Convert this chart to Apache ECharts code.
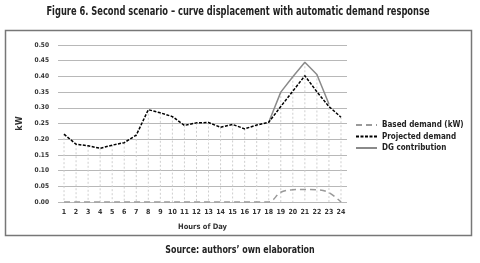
<!DOCTYPE html>
<html>
<head>
<meta charset="utf-8">
<script src="https://cdn.jsdelivr.net/npm/echarts@6/dist/echarts.min.js"></script>
<style>
  html, body { margin: 0; padding: 0; background: #fff; }
  #main { width: 480px; height: 263px; }
</style>
</head>
<body>
<div id="main"></div>
<script>
// hours of day
let hours = ['1','2','3','4','5','6','7','8','9','10','11','12','13','14','15','16','17','18','19','20','21','22','23','24'];

// kW values
let basedDemand = [0,0,0,0,0,0,0,0,0,0,0,0,0,0,0,0,0,0,0.031,0.039,0.040,0.039,0.030,0];
let projectedDemand = [0.216,0.184,0.179,0.171,0.181,0.189,0.213,0.294,0.284,0.272,0.244,0.252,0.253,0.238,0.247,0.233,0.245,0.254,0.304,0.353,0.402,0.351,0.304,0.270];
let dgContribution = [null,null,null,null,null,null,null,null,null,null,null,null,null,null,null,null,null,0.254,0.350,0.399,0.445,0.406,0.312,null];

let fontCond = '"DejaVu Sans Condensed", sans-serif';

// drop lines go up to the highest curve at each hour
let dropTop = [];
projectedDemand.forEach(function (v, i) {
    let g = dgContribution[i];
    dropTop.push(g != null && g > v ? g : v);
});

let chart = echarts.init(document.getElementById('main'));
let option = {
    backgroundColor: '#fff',
    animation: false,
    graphic: [{
        type: 'rect',
        shape: { x: 5.5, y: 30.5, width: 466, height: 205 },
        style: { fill: 'none', stroke: '#777', lineWidth: 1.5 },
        z: -1
    }, {
        // title, squeezed to look like the condensed face of the original
        type: 'text',
        x: 238, y: 12,
        scaleX: 0.77,
        style: {
            text: 'Figure 6. Second scenario \u2013 curve displacement with automatic demand response',
            font: 'bold 12px "DejaVu Sans Condensed", sans-serif',
            fill: '#222', textAlign: 'center', textVerticalAlign: 'middle'
        }
    }, {
        type: 'text',
        x: 240, y: 250,
        scaleX: 0.8,
        style: {
            text: 'Source: authors\u2019 own elaboration',
            font: 'bold 11px "DejaVu Sans Condensed", sans-serif',
            fill: '#222', textAlign: 'center', textVerticalAlign: 'middle'
        }
    }],
    legend: {
        orient: 'vertical',
        left: 355,
        top: 121,
        padding: 0,
        itemWidth: 21,
        itemHeight: 8,
        itemGap: 3.5,
        itemStyle: { opacity: 0 },
        data: ['Based demand (kW)', 'Projected demand', 'DG contribution'],
        textStyle: { fontFamily: fontCond, fontWeight: 'bold', fontSize: 8, color: '#222' }
    },
    grid: { left: 58, right: 133, top: 45, bottom: 61 },
    xAxis: {
        type: 'category',
        data: hours,
        name: 'Hours of Day',
        nameLocation: 'middle',
        nameGap: 21,
        nameTextStyle: { fontFamily: fontCond, fontWeight: 'bold', fontSize: 7.5, color: '#333' },
        axisLine: { show: false },
        axisTick: { show: false },
        axisLabel: { fontFamily: fontCond, fontWeight: 'bold', fontSize: 7, color: '#333', margin: 7, interval: 0 }
    },
    yAxis: {
        type: 'value',
        min: 0,
        max: 0.5,
        interval: 0.05,
        name: 'kW',
        nameLocation: 'middle',
        nameGap: 27,
        nameTextStyle: { fontFamily: fontCond, fontWeight: 'bold', fontSize: 9, color: '#333' },
        axisLabel: {
            fontFamily: fontCond, fontWeight: 'bold', fontSize: 6.5, color: '#333', margin: 9,
            formatter: function (v) { return v.toFixed(2); }
        },
        splitLine: { lineStyle: { color: '#b8b8b8', width: 1 } }
    },
    series: [{
        name: 'drops',
        type: 'custom',
        silent: true,
        z: 1,
        data: dropTop,
        renderItem: function (params, api) {
            let top = api.coord([api.value(0), api.value(1)]);
            let base = api.coord([api.value(0), 0]);
            return {
                type: 'line',
                shape: { x1: top[0], y1: top[1], x2: base[0], y2: base[1] },
                style: { stroke: '#cfcfcf', lineWidth: 1, lineDash: [2, 2] }
            };
        },
        encode: { x: 0, y: 1 }
    }, {
        name: 'DG contribution',
        type: 'line',
        data: dgContribution,
        symbol: 'none',
        z: 3,
        lineStyle: { color: '#8a8a8a', width: 1.5, type: 'solid' },
        itemStyle: { color: '#8a8a8a' }
    }, {
        name: 'Projected demand',
        type: 'line',
        data: projectedDemand,
        symbol: 'none',
        z: 4,
        lineStyle: { color: '#000', width: 1.5, type: [3, 1.5] },
        itemStyle: { color: '#000' }
    }, {
        name: 'Based demand (kW)',
        type: 'line',
        data: basedDemand,
        symbol: 'none',
        smooth: 0.35,
        z: 2,
        lineStyle: { color: '#9a9a9a', width: 1.5, type: [6, 4] },
        itemStyle: { color: '#9a9a9a' }
    }]
};
chart.setOption(option);
</script>
</body>
</html>
